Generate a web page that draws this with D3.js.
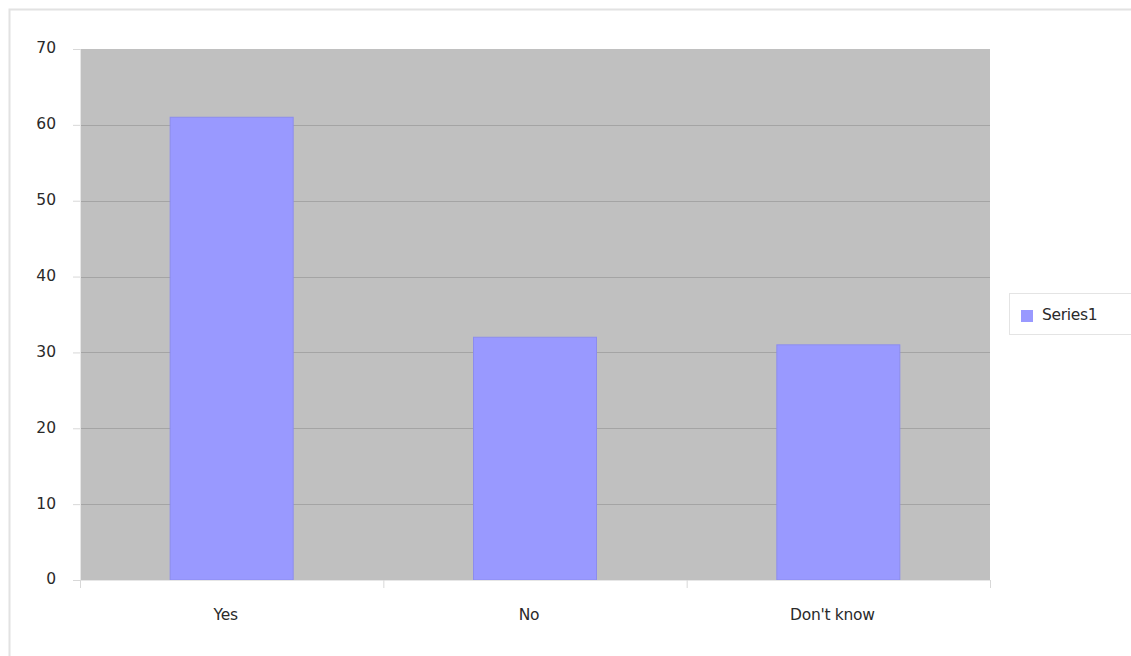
<!DOCTYPE html>
<html>
<head>
<meta charset="utf-8">
<script src="https://cdn.jsdelivr.net/npm/d3@7"></script>
<style>
  html, body { margin: 0; padding: 0; background: #fff; }
  svg { display: block; }
  text { font-family: "DejaVu Sans", Verdana, sans-serif; fill: #2a2a2a; }
</style>
</head>
<body>
<svg id="chart" width="1131" height="656"></svg>
<script>
const categories = ["Yes", "No", "Don't know"];
const values = [61, 32, 31];
const yTicks = [0, 10, 20, 30, 40, 50, 60, 70];
const seriesName = "Series1";

const svg = d3.select("#chart");
const W = 1131, H = 656;
const plot = { left: 80, right: 990, top: 49, bottom: 580 };
const fontSize = "15.5px";

// outer chart frame
svg.append("rect")
  .attr("x", 9.5).attr("y", 9.5)
  .attr("width", W + 20).attr("height", H + 20)
  .attr("fill", "#fff").attr("stroke", "#e2e2e2").attr("stroke-width", 2);

const x = d3.scaleBand().domain(categories)
  .range([plot.left, plot.right]).paddingInner(0).paddingOuter(0);
const y = d3.scaleLinear().domain([0, 70]).range([plot.bottom, plot.top]);

// plot background
svg.append("rect")
  .attr("x", plot.left).attr("y", plot.top)
  .attr("width", plot.right - plot.left).attr("height", plot.bottom - plot.top)
  .attr("fill", "#c0c0c0");

// horizontal gridlines
svg.append("g").selectAll("line").data(yTicks.filter(d => d > 0 && d < 70)).join("line")
  .attr("x1", plot.left).attr("x2", plot.right)
  .attr("y1", d => Math.round(y(d)) + 0.5).attr("y2", d => Math.round(y(d)) + 0.5)
  .attr("stroke", "#a4a4a4").attr("stroke-width", 1.2);

// bars
const barW = 123;
svg.append("g").selectAll("rect").data(values).join("rect")
  .attr("x", (d, i) => x(categories[i]) + x.bandwidth() / 2 - barW / 2)
  .attr("y", d => y(d))
  .attr("width", barW)
  .attr("height", d => y(0) - y(d))
  .attr("fill", "#9999ff")
  .attr("stroke", "#8c8cee").attr("stroke-width", 1);

// y axis
const yAxis = d3.axisLeft(y).tickValues(yTicks).tickSize(7).tickPadding(17);
const gy = svg.append("g").attr("transform", `translate(${plot.left},0)`).call(yAxis);
gy.select(".domain").attr("stroke", "#e6e6e6");
gy.selectAll(".tick line").attr("stroke", "#d8d8d8");
gy.selectAll(".tick text").style("font-size", fontSize).attr("fill", "#2a2a2a")
  .attr("dy", "0.25em")
  .style("font-family", "'DejaVu Sans', Verdana, sans-serif");

// x axis: tick marks at category boundaries
const bounds = categories.map(c => x(c)).concat([plot.right]);
svg.append("line")
  .attr("x1", plot.left).attr("x2", plot.right)
  .attr("y1", plot.bottom + 0.5).attr("y2", plot.bottom + 0.5)
  .attr("stroke", "#e6e6e6");
svg.append("g").selectAll("line").data(bounds).join("line")
  .attr("x1", d => d + 0.5).attr("x2", d => d + 0.5)
  .attr("y1", plot.bottom).attr("y2", plot.bottom + 8)
  .attr("stroke", "#d8d8d8");
svg.append("g").selectAll("text").data(categories).join("text")
  .attr("x", d => x(d) + x.bandwidth() / 2 - 6)
  .attr("y", 619.5)
  .attr("text-anchor", "middle")
  .style("font-size", fontSize)
  .style("letter-spacing", "-0.3px")
  .text(d => d);

// legend
const lg = svg.append("g");
lg.append("rect")
  .attr("x", 1009.5).attr("y", 293.5).attr("width", 140).attr("height", 41)
  .attr("fill", "#fff").attr("stroke", "#e4e4e4");
lg.append("rect")
  .attr("x", 1021).attr("y", 310).attr("width", 12).attr("height", 12)
  .attr("fill", "#9999ff");
lg.append("text")
  .attr("x", 1042).attr("y", 320)
  .style("font-size", fontSize)
  .style("letter-spacing", "-0.3px")
  .text(seriesName);
</script>
</body>
</html>
